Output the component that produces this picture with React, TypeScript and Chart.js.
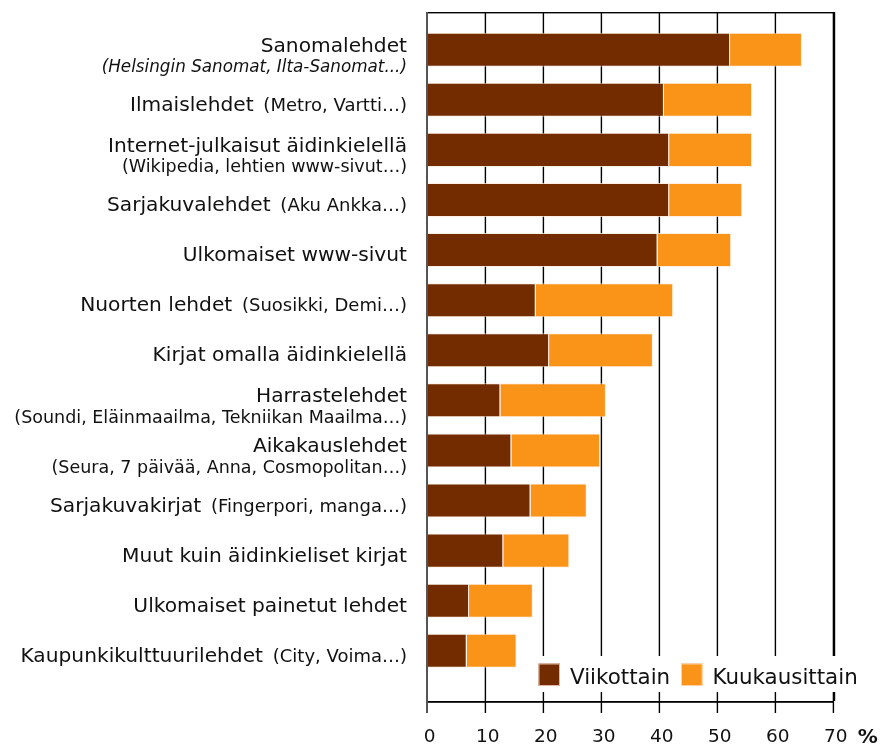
import React, { useEffect, useRef } from "react";
import { Chart, registerables } from "chart.js";

Chart.register(...registerables);

// ---- data ----
const categories = [
  "Sanomalehdet",
  "Ilmaislehdet",
  "Internet-julkaisut äidinkielellä",
  "Sarjakuvalehdet",
  "Ulkomaiset www-sivut",
  "Nuorten lehdet",
  "Kirjat omalla äidinkielellä",
  "Harrastelehdet",
  "Aikakauslehdet",
  "Sarjakuvakirjat",
  "Muut kuin äidinkieliset kirjat",
  "Ulkomaiset painetut lehdet",
  "Kaupunkikulttuurilehdet",
];
const subLabels = [
  "(Helsingin Sanomat, Ilta-Sanomat...)",
  "(Metro, Vartti…)",
  "(Wikipedia, lehtien www-sivut…)",
  "(Aku Ankka…)",
  "",
  "(Suosikki, Demi…)",
  "",
  "(Soundi, Eläinmaailma, Tekniikan Maailma…)",
  "(Seura, 7 päivää, Anna, Cosmopolitan…)",
  "(Fingerpori, manga…)",
  "",
  "",
  "(City, Voima…)",
];
// how the sub label is placed: "below", "belowItalic", "inline" or "none"
const subPlacement = [
  "belowItalic", "inline", "below", "inline", "none", "inline", "none",
  "below", "below", "inline", "none", "none", "inline",
];
const weekly = [52.3, 40.9, 41.8, 41.8, 39.8, 18.8, 21.1, 12.7, 14.6, 17.9, 13.2, 7.3, 6.9];
const monthly = [12.4, 15.2, 14.3, 12.6, 12.7, 23.7, 17.9, 18.2, 15.3, 9.7, 11.4, 11.0, 8.6];
const seriesNames = ["Viikottain", "Kuukausittain"];
const xTickValues = [0, 10, 20, 30, 40, 50, 60, 70];
const unitLabel = "%";

// ---- styles ----
const FONT = '"DejaVu Sans", Verdana, sans-serif';
const BROWN = "#732c00";
const ORANGE = "#fa9419";
const TEXT = "#111111";

function frameGeometry(chart: any) {
  const ys = chart.scales.y;
  const xs = chart.scales.x;
  const lastCenter = ys.getPixelForValue(categories.length - 1);
  const step = ys.getPixelForValue(1) - ys.getPixelForValue(0);
  return {
    top: Math.round(ys.getPixelForValue(0) - step * 0.75),
    axisY: Math.round(lastCenter + step),
    tickBottom: Math.round(lastCenter + step + 12),
    x0: Math.round(xs.getPixelForValue(0)),
    x1: Math.round(xs.getPixelForValue(xTickValues[xTickValues.length - 1])),
  };
}

const gridPlugin = {
  id: "gridFrame",
  beforeDatasetsDraw(chart: any) {
    const { ctx } = chart;
    const xs = chart.scales.x;
    const g = frameGeometry(chart);
    ctx.save();
    ctx.fillStyle = "#000";
    xTickValues.forEach((v) => {
      if (v === 0) return;
      const px = Math.round(xs.getPixelForValue(v));
      ctx.fillRect(px - 0.3, g.top, 1.4, g.tickBottom - g.top);
    });
    ctx.restore();
  },
  afterDatasetsDraw(chart: any) {
    const { ctx } = chart;
    const g = frameGeometry(chart);
    ctx.save();
    ctx.fillStyle = "#000";
    // top border
    ctx.fillRect(g.x0, g.top, g.x1 - g.x0 + 2, 1.4);
    // right border
    ctx.fillRect(g.x1 + 0.8, g.top, 1.4, g.axisY - g.top);
    // bottom axis line
    ctx.fillRect(g.x0, g.axisY, g.x1 - g.x0 + 1, 1.8);
    // left axis
    ctx.fillStyle = "#555";
    ctx.fillRect(g.x0 - 1, g.top, 2, g.tickBottom - g.top);
    ctx.restore();
  },
};

const legendPlugin = {
  id: "insideLegend",
  afterDatasetsDraw(chart: any) {
    const { ctx } = chart;
    ctx.save();
    ctx.fillStyle = "#fff";
    ctx.fillRect(532, 656, 338, 36);
    const items = [
      { x: 538.5, color: BROWN, text: seriesNames[0] },
      { x: 681, color: ORANGE, text: seriesNames[1] },
    ];
    ctx.font = `21.4px ${FONT}`;
    ctx.textAlign = "left";
    ctx.textBaseline = "alphabetic";
    items.forEach((it) => {
      ctx.fillStyle = it.color;
      ctx.fillRect(it.x, 663.5, 21.5, 22.5);
      ctx.strokeStyle = "rgba(255,220,200,0.8)";
      ctx.lineWidth = 1;
      ctx.strokeRect(it.x + 0.5, 664, 20.5, 21.5);
      ctx.fillStyle = TEXT;
      ctx.fillText(it.text, it.x + 31.5, 683.5);
    });
    ctx.restore();
  },
};

const labelPlugin = {
  id: "categoryLabels",
  afterDraw(chart: any) {
    const { ctx } = chart;
    const ys = chart.scales.y;
    const xs = chart.scales.x;
    const right = 407;
    const g = frameGeometry(chart);
    ctx.save();
    ctx.fillStyle = TEXT;
    ctx.textAlign = "right";
    ctx.textBaseline = "alphabetic";
    const mainFont = `20.2px ${FONT}`;
    const subFont = `17.5px ${FONT}`;
    const inlineSubFont = `18px ${FONT}`;
    categories.forEach((name, i) => {
      const cy = ys.getPixelForValue(i);
      const mode = subPlacement[i];
      const sub = subLabels[i];
      if (mode === "below" || mode === "belowItalic") {
        ctx.font = mainFont;
        ctx.fillText(name, right, cy + 2);
        ctx.font = mode === "belowItalic" ? `italic 16.8px ${FONT}` : subFont;
        ctx.fillText(sub, right, cy + 22.5);
      } else if (mode === "inline") {
        ctx.font = inlineSubFont;
        const w = ctx.measureText(sub).width + ctx.measureText(" ").width + 4;
        ctx.fillText(sub, right, cy + 11);
        ctx.font = mainFont;
        ctx.fillText(name, right - w, cy + 11);
      } else {
        ctx.font = mainFont;
        ctx.fillText(name, right, cy + 11);
      }
    });
    // unit label next to the last tick
    ctx.font = `bold 20px ${FONT}`;
    ctx.textAlign = "left";
    const lastX = xs.getPixelForValue(xTickValues[xTickValues.length - 1]);
    ctx.fillText(unitLabel, lastX + 25, g.axisY + 42);
    ctx.restore();
  },
};

export default function App() {
  const ref = useRef<HTMLCanvasElement | null>(null);
  useEffect(() => {
    if (!ref.current) return;
    const chart = new Chart(ref.current, {
      type: "bar",
      data: {
        labels: categories,
        datasets: [
          { label: seriesNames[0], data: weekly, backgroundColor: BROWN, borderColor: "rgba(255,235,220,0.75)", borderWidth: 1 },
          { label: seriesNames[1], data: monthly, backgroundColor: ORANGE, borderColor: "rgba(255,235,220,0.75)", borderWidth: 1 },
        ],
      },
      options: {
        indexAxis: "y",
        responsive: false,
        animation: false,
        devicePixelRatio: 1,
        layout: { padding: { top: 24.65, left: 426.7, right: 48.3, bottom: 0 } },
        datasets: { bar: { categoryPercentage: 1, barPercentage: 0.68 } },
        plugins: { legend: { display: false }, tooltip: { enabled: false } },
        scales: {
          x: {
            stacked: true,
            min: 0,
            max: 70,
            grid: { display: false, drawTicks: true, tickLength: 50.8 },
            border: { display: false },
            ticks: {
              stepSize: 10,
              autoSkip: false,
              maxRotation: 0,
              padding: 0,
              labelOffset: 3,
              color: TEXT,
              font: { family: FONT, size: 18.5, lineHeight: 1.1 },
            },
          },
          y: { stacked: true, display: false, grid: { display: false } },
        },
      },
      plugins: [gridPlugin, legendPlugin, labelPlugin],
    });
    return () => chart.destroy();
  }, []);
  return (
    <div style={{ position: "absolute", left: 0, top: 0, width: 881, height: 747, background: "#fff" }}>
      <canvas ref={ref} width={881} height={747} style={{ display: "block" }} />
    </div>
  );
}
